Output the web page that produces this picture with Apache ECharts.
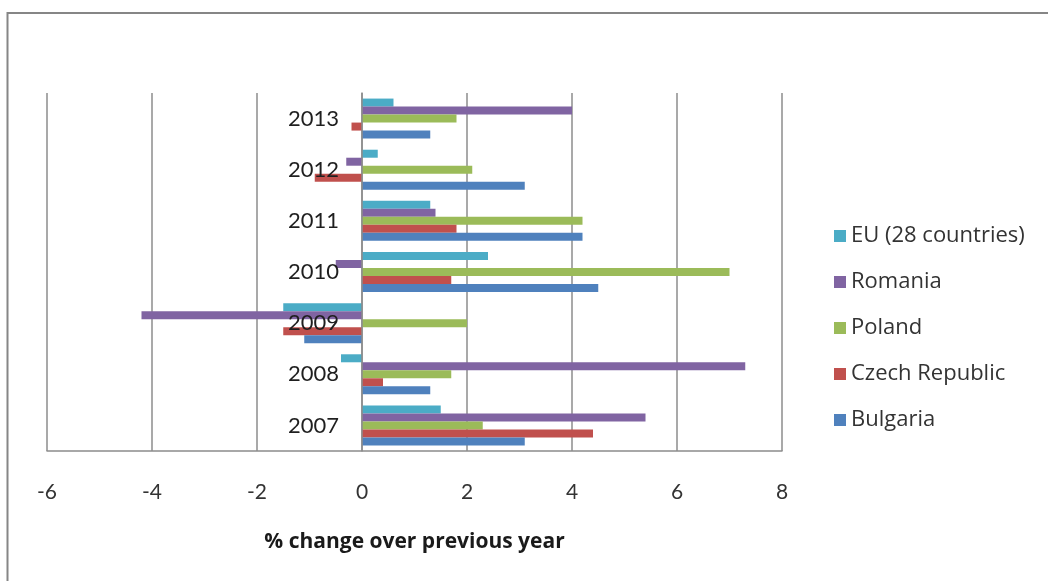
<!DOCTYPE html>
<html>
<head>
<meta charset="utf-8">
<title>HICP inflation, % change over previous year</title>
<script src="https://cdn.jsdelivr.net/npm/echarts@6/dist/echarts.min.js"></script>
<style>
  html, body { margin: 0; padding: 0; background: #ffffff; }
  #chart { width: 1048px; height: 581px; }
</style>
</head>
<body>
<div id="chart"></div>
<script>
// Years on the category axis (bottom to top)
const years = ['2007', '2008', '2009', '2010', '2011', '2012', '2013'];

// Annual % change, one array per country, in year order
const eu28          = [1.5, -0.4, -1.5, 2.4, 1.3, 0.3, 0.6];
const romania       = [5.4, 7.3, -4.2, -0.5, 1.4, -0.3, 4.0];
const poland        = [2.3, 1.7, 2.0, 7.0, 4.2, 2.1, 1.8];
const czechRepublic = [4.4, 0.4, -1.5, 1.7, 1.8, -0.9, -0.2];
const bulgaria      = [3.1, 1.3, -1.1, 4.5, 4.2, 3.1, 1.3];

// Value axis ticks
const xMin = -6, xMax = 8, xStep = 2;

const seriesDefs = [
  { name: 'EU (28 countries)', data: eu28,          color: '#4BACC6' },
  { name: 'Romania',           data: romania,       color: '#8064A2' },
  { name: 'Poland',            data: poland,        color: '#9BBB59' },
  { name: 'Czech Republic',    data: czechRepublic, color: '#C0504D' },
  { name: 'Bulgaria',          data: bulgaria,      color: '#4F81BD' }
];

const gridColor = '#8c8c8c';

// plot box in pixels
const plotLeft = 47, plotRight = 266, plotTop = 93, plotBottom = 130;
const plotWidth = 1048 - plotLeft - plotRight;
// the category axis sits on the zero line of the value axis
const zeroShift = (0 - xMin) / (xMax - xMin) * plotWidth;

const chart = echarts.init(document.getElementById('chart'), null, { renderer: 'canvas' });

chart.setOption({
  animation: false,
  backgroundColor: '#ffffff',
  grid: {
    left: plotLeft, right: plotRight, top: plotTop, bottom: plotBottom,
    containLabel: false, outerBoundsMode: 'none'
  },
  legend: {
    orient: 'vertical',
    left: 829,
    top: 220,
    icon: 'rect',
    itemWidth: 12,
    itemHeight: 12,
    itemGap: 24,
    textStyle: { fontFamily: 'Open Sans', fontSize: 22, color: '#333333', lineHeight: 18 },
    data: seriesDefs.map(s => s.name)
  },
  xAxis: {
    type: 'value',
    min: xMin,
    max: xMax,
    interval: xStep,
    name: '% change over previous year',
    nameLocation: 'middle',
    nameGap: 81,
    nameTextStyle: { fontFamily: 'Open Sans', fontWeight: 'bold', fontSize: 21, color: '#1a1a1a' },
    axisLine: { show: true, lineStyle: { color: gridColor, width: 1.5 } },
    axisTick: { show: false },
    axisLabel: { margin: 31, fontFamily: 'Lato', fontSize: 21, color: '#333333' },
    splitLine: { show: true, showMinLine: true, showMaxLine: true, lineStyle: { color: gridColor, width: 1.5 } }
  },
  yAxis: {
    type: 'category',
    data: years,
    position: 'left',
    offset: -zeroShift,
    z: 5,
    axisLine: { show: true, onZero: false, lineStyle: { color: gridColor, width: 1.5 } },
    axisTick: { show: false },
    axisLabel: { margin: 23, fontFamily: 'Lato', fontSize: 22, color: '#1f1f1f' },
    splitLine: { show: false }
  },
  series: seriesDefs.map(s => ({
    name: s.name,
    type: 'bar',
    data: s.data,
    barWidth: 8,
    barGap: '0%',
    itemStyle: { color: s.color },
    emphasis: { disabled: true }
  })),
  graphic: [
    {
      // chart area frame (left and top edges)
      type: 'polyline',
      shape: { points: [[7.5, 581], [7.5, 13], [1048, 13]] },
      style: { stroke: '#868686', lineWidth: 2, fill: null },
      silent: true
    }
  ]
});
</script>
</body>
</html>
